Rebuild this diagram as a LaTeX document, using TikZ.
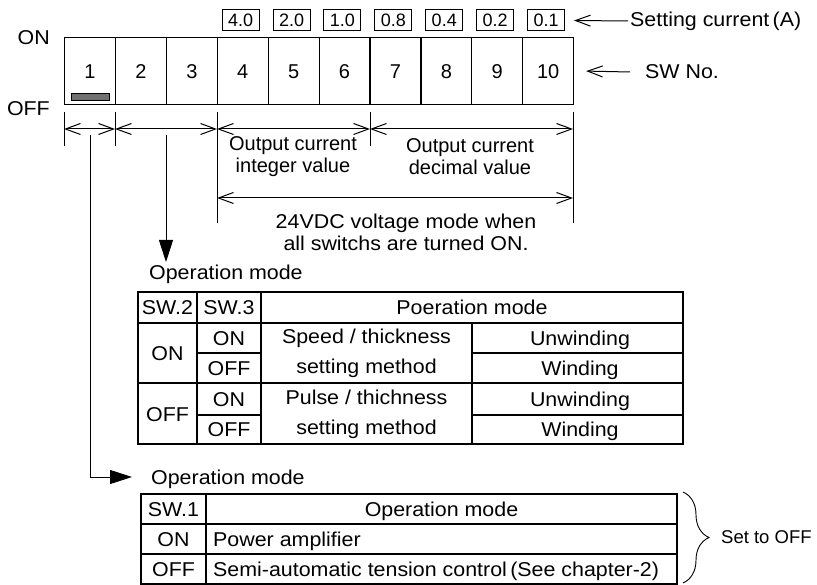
\documentclass[tikz,border=0pt]{standalone}
\usepackage{fontspec}
\setmainfont{Liberation Sans}[FakeStretch=1.07]
\newfontfamily\plainfont{Liberation Sans}
\usetikzlibrary{arrows.meta,decorations.pathreplacing}
\definecolor{knob}{RGB}{112,112,112}
\begin{document}
\begin{tikzpicture}[x=1pt,y=-1pt,
  txt/.style={inner sep=0pt,font=\fontsize{20}{22}\selectfont},
  plaintxt/.style={inner sep=0pt,font=\plainfont\fontsize{20}{22}\selectfont},
  cell/.style={txt,text height=14.3pt,text depth=0pt},
  twoline/.style={inner sep=0pt,align=center,font=\fontsize{20}{30}\selectfont},
  valbox/.style={draw,line width=1pt,minimum width=37pt,minimum height=21pt,inner sep=0pt,
    text height=13pt,text depth=0pt,font=\plainfont\fontsize{18}{20}\selectfont},
  swcell/.style={draw,line width=1.2pt,minimum width=50.9pt,minimum height=67pt,inner sep=0pt,
    anchor=north west,text height=14.3pt,text depth=0pt,font=\plainfont\fontsize{20}{22}\selectfont},
  dim/.style={line width=1pt,{Straight Barb[length=15pt,width=11pt]}-{Straight Barb[length=15pt,width=11pt]}},
  openarrow/.style={line width=1pt,{Straight Barb[length=15pt,width=11pt]}-},
  tick/.style={line width=1pt},
  bigarrow/.style={line width=1pt,-{Triangle[length=22pt,width=14pt]}},
  tbl/.style={line width=1.2pt},
]
\useasboundingbox (0,0) rectangle (817,585);

% switch cells
\foreach \i in {1,...,10}{
  \node[swcell] (c\i) at ({64+(\i-1)*50.9},37) {\i};
}
% setting current boxes
\foreach \v [count=\i from 4] in {4.0,2.0,1.0,0.8,0.4,0.2,0.1}{
  \node[valbox] (v\i) at ({64+(\i-0.5)*50.9-1.5},20.5) {\v};
}
\node[txt,anchor=west] (setc) at (630,21) {Setting current\,(A)};
\draw[openarrow] ([xshift=9pt]v10.east) -- ([xshift=-2pt]setc.west);
\node[txt,anchor=west] (swno) at (645,72) {SW No.};
\draw[openarrow] ([xshift=12pt]c10.east) -- ([xshift=-15pt]swno.west);

\node[cell,anchor=east] (on) at (50,37) {ON};
\node[cell,anchor=east] (off) at (50,108) {OFF};

\node[draw,fill=knob,line width=0.8pt,minimum width=38pt,minimum height=7pt,inner sep=0pt] (knob) at (90,96.5) {};

% dimension ticks
\coordinate (t1) at (64,112);
\coordinate (t2) at (115,112);
\coordinate (t3) at (217,112);
\coordinate (t4) at (370,112);
\coordinate (t5) at (573,112);
\draw[tick] (t1) -- ++(0,34);
\draw[tick] (t2) -- ++(0,34);
\draw[tick] (t3) -- ++(0,111);
\draw[tick] (t4) -- ++(0,34);
\draw[tick] (t5) -- ++(0,111);
\draw[dim] ([yshift=-17pt]t1) -- ([yshift=-17pt]t2);
\draw[dim] ([yshift=-17pt]t2) -- ([yshift=-17pt]t3);
\draw[dim] ([yshift=-17pt]t3) -- ([yshift=-17pt]t4);
\draw[dim] ([yshift=-17pt]t4) -- ([yshift=-17pt]t5);
\draw[dim] ([yshift=-86pt]t3) -- ([yshift=-86pt]t5);

\node[plaintxt,align=center] (intv) at (293,157) {Output current\\integer value};
\node[plaintxt,align=center] (decv) at (470,157) {Output current\\decimal value};
\node[txt,align=center] (vdc) at (406,232) {24VDC voltage mode when\\all switchs are turned ON.};

% operation mode labels and arrows
\node[cell,anchor=west] (om1) at (149,272) {Operation mode};
\node[cell,anchor=west] (om2) at (151,477) {Operation mode};
\coordinate (s23) at (166,135);
\coordinate (s1) at (90,135);
\draw[bigarrow] (s23) -- (166,262);
\draw[bigarrow] (s1) |- ([xshift=-19pt]om2.west);

% table 1
\draw[tbl] (138,292) rectangle (683,444);
\draw[tbl] (138,323) -- (683,323);
\draw[tbl] (138,383) -- (683,383);
\draw[tbl] (197,353) -- (261,353) (472,353) -- (683,353);
\draw[tbl] (197,415) -- (261,415) (472,415) -- (683,415);
\draw[tbl] (197,292) -- (197,444);
\draw[tbl] (261,292) -- (261,444);
\draw[tbl] (472,323) -- (472,444);

\node[cell] (h2) at (167.5,307.5) {SW.2};
\node[cell] (h3) at (229,307.5) {SW.3};
\node[cell] (hm) at (472,307.5) {Poeration mode};
\node[cell] (a1) at (167.5,353) {ON};
\node[cell] (b1) at (229,338) {ON};
\node[cell] (b2) at (229,368) {OFF};
\node[twoline] (m1) at (366.5,353) {Speed / thickness\\setting method};
\node[cell] (d1) at (580,338) {Unwinding};
\node[cell] (d2) at (580,368) {Winding};
\node[cell] (a2) at (167.5,414) {OFF};
\node[cell] (b3) at (229,399) {ON};
\node[cell] (b4) at (229,429.5) {OFF};
\node[twoline] (m2) at (366.5,414) {Pulse / thichness\\setting method};
\node[cell] (d3) at (580,399) {Unwinding};
\node[cell] (d4) at (580,429.5) {Winding};

% table 2
\draw[tbl] (141,494) rectangle (677,584);
\draw[tbl] (141,524) -- (677,524);
\draw[tbl] (141,554) -- (677,554);
\draw[tbl] (206,494) -- (206,584);
\node[cell] (g1) at (173.5,509) {SW.1};
\node[cell] (g2) at (441.5,509) {Operation mode};
\node[cell] (g3) at (173.5,539) {ON};
\node[cell,anchor=west] (g4) at (213,539) {Power amplifier};
\node[cell] (g5) at (173.5,569) {OFF};
\node[cell,anchor=west] (g6) at (213,569) {Semi-automatic tension control\,(See chapter-2)};

\draw[line width=0.9pt,decorate,decoration={brace,amplitude=26pt,aspect=0.5}] (683,492) -- (683,583);
\node[inner sep=0pt,text height=13pt,text depth=0pt,font=\plainfont\fontsize{18.5}{20}\selectfont,anchor=west] (set) at (721,537) {Set to OFF};
\end{tikzpicture}
\end{document}
